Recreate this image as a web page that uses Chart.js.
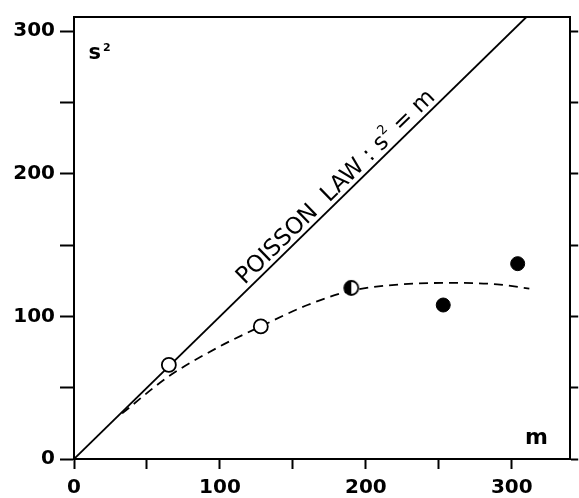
<!DOCTYPE html>
<html>
<head>
<meta charset="utf-8">
<script src="https://cdn.jsdelivr.net/npm/chart.js@4/dist/chart.umd.min.js"></script>
<style>
  html, body { margin: 0; padding: 0; background: #fff; }
</style>
</head>
<body>
<canvas id="chart" width="579" height="498"></canvas>
<script>
// observed mean (m) and variance (s^2)
const openM = [65, 128];
const openS2 = [66, 93];
const halfM = [190];
const halfS2 = [120];
const filledM = [253, 304];
const filledS2 = [108, 137];

// Poisson law s^2 = m
const poissonM = [0, 310];

// fitted dashed curve
const fitM = [33, 65, 100, 128, 160, 190, 225, 260, 290, 312];
const fitS2 = [32, 58, 79, 93, 108, 118, 122.5, 123.5, 122.5, 119.5];

const xLabels = [0, 100, 200, 300];
const yLabels = [0, 100, 200, 300];

const pts = (xs, ys) => xs.map((v, i) => ({ x: v, y: ys[i] }));

function halfDisc(r) {
    const c = document.createElement('canvas');
    const s = Math.ceil(2 * r + 4);
    c.width = c.height = s;
    const g = c.getContext('2d');
    const m = s / 2;
    g.fillStyle = '#fff';
    g.beginPath(); g.arc(m, m, r, 0, 2 * Math.PI); g.fill();
    g.fillStyle = '#000';
    g.beginPath(); g.arc(m, m, r, Math.PI / 2, 3 * Math.PI / 2); g.closePath(); g.fill();
    g.lineWidth = 1.8; g.strokeStyle = '#000';
    g.beginPath(); g.arc(m, m, r, 0, 2 * Math.PI); g.stroke();
    return c;
}

const tickFont = { family: 'DejaVu Sans', weight: 'bold', size: 20 };

const annotate = {
    id: 'annotate',
    afterDatasetsDraw(chart) {
        const { ctx, scales: { x, y } } = chart;
        ctx.save();
        ctx.fillStyle = '#000';
        ctx.textBaseline = 'alphabetic';
        ctx.textAlign = 'left';

        // s^2 axis label
        let px = x.getPixelForValue(10), py = y.getPixelForValue(280.5);
        ctx.font = 'bold 21px "DejaVu Sans"';
        ctx.fillText('s', px, py);
        const sw = ctx.measureText('s').width;
        ctx.font = 'bold 11px "DejaVu Sans"';
        ctx.fillText('2', px + sw + 2, py - 8);

        // m axis label
        ctx.font = 'bold 22px "DejaVu Sans"';
        ctx.fillText('m', x.getPixelForValue(309), y.getPixelForValue(10.5));

        // label along the Poisson line
        const x0 = x.getPixelForValue(poissonM[0]), y0 = y.getPixelForValue(poissonM[0]);
        const x1 = x.getPixelForValue(poissonM[1]), y1 = y.getPixelForValue(poissonM[1]);
        const ang = Math.atan2(y1 - y0, x1 - x0);
        ctx.translate(x.getPixelForValue(185), y.getPixelForValue(185));
        ctx.rotate(ang);
        const big = '23px "DejaVu Sans"', small = '13px "DejaVu Sans"';
        const parts = [['POISSON  LAW : s', big, 0], ['2', small, -11], [' = m', big, 0]];
        let total = 0;
        parts.forEach(p => { ctx.font = p[1]; p.push(ctx.measureText(p[0]).width); total += p[3]; });
        let cx = -total / 2;
        parts.forEach(p => {
            ctx.font = p[1];
            ctx.fillText(p[0], cx, -5 + p[2]);
            cx += p[3];
        });
        ctx.restore();
    }
};

new Chart(document.getElementById('chart'), {
    type: 'scatter',
    data: {
        datasets: [
            {
                data: pts(openM, openS2), order: 0,
                pointRadius: 7, pointHoverRadius: 7,
                backgroundColor: '#fff', borderColor: '#000', borderWidth: 1.8
            },
            {
                data: pts(halfM, halfS2), order: 0,
                pointStyle: halfDisc(7), pointRadius: 7
            },
            {
                data: pts(filledM, filledS2), order: 0,
                pointRadius: 7, pointHoverRadius: 7,
                backgroundColor: '#000', borderColor: '#000', borderWidth: 1
            },
            {
                data: pts(poissonM, poissonM), order: 1, showLine: true,
                borderColor: '#000', borderWidth: 1.8, pointRadius: 0
            },
            {
                data: pts(fitM, fitS2), order: 1, showLine: true,
                borderColor: '#000', borderWidth: 1.8, borderDash: [9, 6],
                cubicInterpolationMode: 'monotone', pointRadius: 0
            }
        ]
    },
    options: {
        responsive: false,
        animation: false,
        events: [],
        layout: { padding: { top: 11, left: 0, right: 0, bottom: 0 } },
        plugins: { legend: { display: false }, tooltip: { enabled: false } },
        scales: {
            x: {
                type: 'linear', position: 'bottom', min: 0, max: 340,
                afterFit: s => { s.height = 39; },
                ticks: {
                    stepSize: 50, includeBounds: false, color: '#000', font: tickFont,
                    padding: 7, maxRotation: 0, autoSkip: false,
                    callback: v => xLabels.includes(v) ? String(v) : ''
                },
                grid: { drawOnChartArea: false, tickLength: 10, tickWidth: 2, tickColor: '#000' },
                border: { color: '#000', width: 2 }
            },
            x2: {
                type: 'linear', position: 'top', min: 0, max: 340,
                afterFit: s => { s.height = 0; },
                ticks: { display: false },
                grid: { drawOnChartArea: false, drawTicks: false },
                border: { color: '#000', width: 2 }
            },
            y: {
                type: 'linear', position: 'left', min: 0, max: 310,
                afterFit: s => { s.width = 74; },
                ticks: {
                    stepSize: 50, includeBounds: false, color: '#000', font: tickFont,
                    padding: 5, autoSkip: false,
                    callback: v => yLabels.includes(v) ? String(v) : ''
                },
                grid: { drawOnChartArea: false, tickLength: 14, tickWidth: 2, tickColor: '#000' },
                border: { color: '#000', width: 2 }
            },
            y2: {
                type: 'linear', position: 'right', min: 0, max: 310,
                afterFit: s => { s.width = 8; },
                ticks: { display: false, stepSize: 50, includeBounds: false },
                grid: { drawOnChartArea: false, tickLength: 8, tickWidth: 2, tickColor: '#000' },
                border: { color: '#000', width: 2 }
            }
        }
    },
    plugins: [annotate]
});
</script>
</body>
</html>
